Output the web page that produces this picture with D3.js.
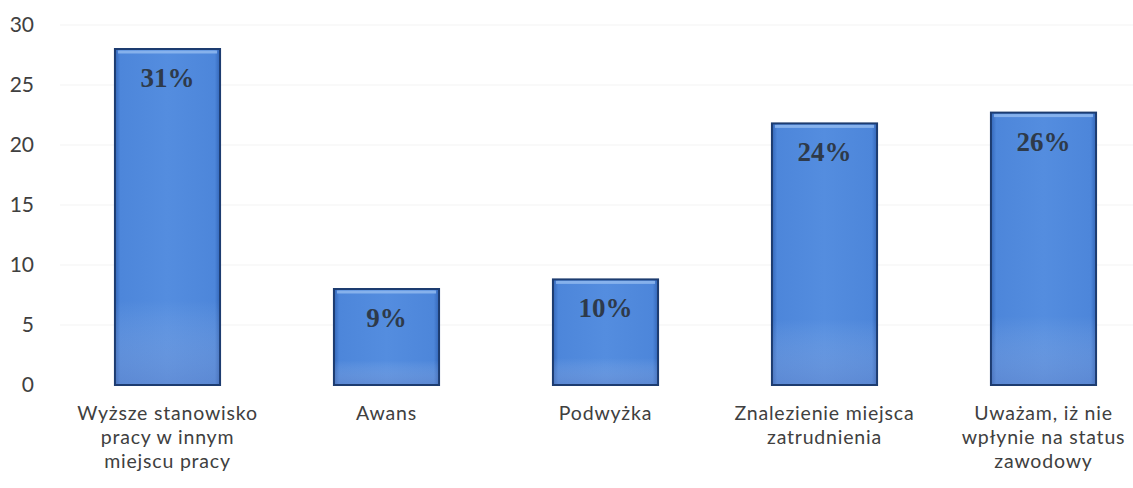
<!DOCTYPE html>
<html><head><meta charset="utf-8">
<script src="https://cdn.jsdelivr.net/npm/d3@7"></script>
<style>body{margin:0;background:#fff}svg{display:block}</style>
</head><body>
<svg id="c" width="1133" height="488"></svg>
<script>
const categories = [
  ["Wyższe stanowisko","pracy w innym","miejscu pracy"],
  ["Awans"],
  ["Podwyżka"],
  ["Znalezienie miejsca","zatrudnienia"],
  ["Uważam, iż nie","wpłynie na status","zawodowy"]
];
const values = [28, 8, 8.8, 21.8, 22.7];
const percentLabels = ["31%","9%","10%","24%","26%"];
const yTicks = [0,5,10,15,20,25,30];

const svg = d3.select("#c");
const x = d3.scaleBand().domain(d3.range(categories.length)).range([58, 1153]).paddingInner(0.52).paddingOuter(0.26);
const y = d3.scaleLinear().domain([0,30]).range([385,25]);

const defs = svg.append("defs");
const gh = defs.append("linearGradient").attr("id","gh").attr("x1","0").attr("x2","1").attr("y1","0").attr("y2","0");
gh.append("stop").attr("offset","0").attr("stop-color","#3366b8");
gh.append("stop").attr("offset","0.05").attr("stop-color","#4d86da");
gh.append("stop").attr("offset","0.5").attr("stop-color","#548ddf");
gh.append("stop").attr("offset","0.95").attr("stop-color","#4d86da");
gh.append("stop").attr("offset","1").attr("stop-color","#3366b8");
const gv = defs.append("linearGradient").attr("id","gv").attr("x1","0").attr("x2","0").attr("y1","0").attr("y2","1");
gv.append("stop").attr("offset","0").attr("stop-color","#ffffff").attr("stop-opacity","0.0");
gv.append("stop").attr("offset","0.75").attr("stop-color","#ffffff").attr("stop-opacity","0.0");
gv.append("stop").attr("offset","1").attr("stop-color","#7d8ec4").attr("stop-opacity","0.3");

// faint gridlines
svg.append("g").selectAll("line").data(yTicks.slice(1)).join("line")
  .attr("x1",60).attr("x2",1133).attr("y1",d=>y(d)).attr("y2",d=>y(d))
  .attr("stroke","#f3f3f3").attr("stroke-width",1);

// y axis
const ya = svg.append("g").attr("transform","translate(34,0)")
  .call(d3.axisLeft(y).tickValues(yTicks).tickSize(0).tickPadding(0));
ya.select(".domain").remove();
ya.selectAll("text").attr("font-family","Lato, sans-serif").attr("font-size",21).attr("fill","#404040");

// bars
const bars = svg.append("g").selectAll("g").data(values).join("g");
bars.append("rect")
  .attr("x",(d,i)=>x(i)).attr("y",d=>y(d)).attr("width",x.bandwidth()).attr("height",d=>y(0)-y(d))
  .attr("fill","url(#gh)").attr("stroke","#1d3c70").attr("stroke-width",2);
bars.append("rect")
  .attr("x",(d,i)=>x(i)+1).attr("y",d=>y(d)+1).attr("width",x.bandwidth()-2).attr("height",d=>y(0)-y(d)-2)
  .attr("fill","url(#gv)");
bars.append("rect")
  .attr("x",(d,i)=>x(i)+3).attr("y",d=>y(d)+1.5).attr("width",x.bandwidth()-6).attr("height",3)
  .attr("fill","#93bbf0").attr("opacity",0.8);
bars.append("text")
  .attr("x",(d,i)=>x(i)+x.bandwidth()/2).attr("y",d=>y(d)+38)
  .attr("text-anchor","middle").attr("font-family","'Liberation Serif', 'Times New Roman', serif")
  .attr("font-weight","bold").attr("font-size",27).attr("fill","#2e3a4a")
  .text((d,i)=>percentLabels[i]);

// category labels
const xl = svg.append("g").selectAll("text").data(categories).join("text")
  .attr("x",(d,i)=>x(i)+x.bandwidth()/2).attr("y",420)
  .attr("text-anchor","middle").attr("font-family","Lato, sans-serif").attr("font-size",19.5)
  .attr("letter-spacing",0.8).attr("fill","#404040");
xl.selectAll("tspan").data(d=>d).join("tspan")
  .attr("x",function(){return this.parentNode.getAttribute("x");})
  .attr("dy",(d,j)=>j===0?0:24).text(d=>d);
</script>
</body></html>
